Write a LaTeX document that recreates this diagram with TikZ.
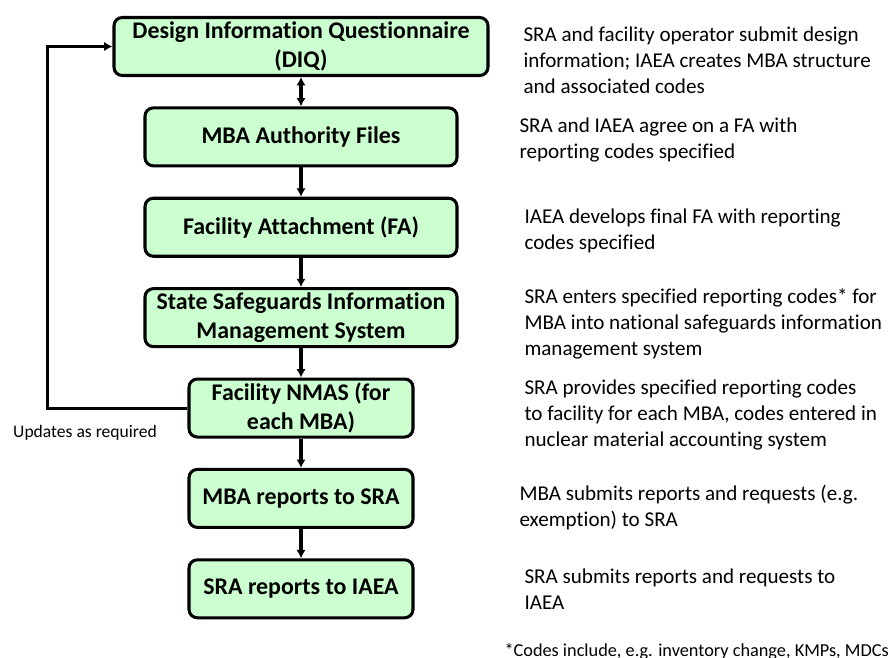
\documentclass[tikz,border=0pt]{standalone}
\usepackage{fontspec}
\setmainfont{Carlito}[Ligatures=NoCommon]
\usetikzlibrary{
	arrows.meta,
	positioning,
	calc
}
\definecolor{stagegreen}{RGB}{204,255,208}

\tikzset{
	stagebox/.style={draw, fill=stagegreen, rounded corners=.25cm, align=center,
		minimum height=1.74cm, inner sep=2pt,
		font=\fontsize{20.4pt}{24.5pt}\selectfont\bfseries},
	notetext/.style={anchor=west, align=left, inner sep=0pt,
		font=\fontsize{18pt}{22.2pt}\selectfont},
}

\begin{document}
\begin{tikzpicture}[line width=2.6pt, >={Latex[length=2.5mm,width=2.8mm]}]

		\useasboundingbox (0, 0) rectangle (26.82, -19.71);

		% left column: the stages
		\node[stagebox, minimum width=11.22cm] (diq) at (9.03, -1.395) {Design Information Questionnaire\\(DIQ)};
		\node[stagebox, minimum width=9.36cm, below=.88 of diq] (maf) {MBA Authority Files};
		\node[stagebox, minimum width=9.36cm, below=.88 of maf] (fa) {Facility Attachment (FA)};
		\node[stagebox, minimum width=9.36cm, below=.88 of fa] (sss) {State Safeguards Information\\Management System};
		\node[stagebox, minimum width=6.72cm, below=.88 of sss] (nmas) {Facility NMAS (for\\each MBA)};
		\node[stagebox, minimum width=6.72cm, below=.88 of nmas] (mrs) {MBA reports to SRA};
		\node[stagebox, minimum width=6.72cm, below=.88 of mrs] (sri) {SRA reports to IAEA};

		\draw[<->] (diq.south) -- (maf.north);
		\foreach \a/\b in {maf/fa, fa/sss, sss/nmas, nmas/mrs, mrs/sri} {
		\draw[->] (\a.south) -- (\b.north);
		}

		% feedback loop
		\coordinate [left=4.2 of nmas.west] (turn);
		\draw[->] (nmas.west) -- (turn) |- (diq.west);
		\node[font=\fontsize{15pt}{18pt}\selectfont, inner sep=0pt] (upd) at (2.55, -12.99) {Updates as required};

		% right column: what happens
		\node[notetext] (d1) at (15.66, -1.80) {SRA and facility operator submit design\\information; IAEA creates MBA structure\\and associated codes};
		\node[notetext] (d2) at (15.54, -4.20) {SRA and IAEA agree on a FA with\\reporting codes specified};
		\node[notetext] (d3) at (15.69, -6.92) {IAEA develops final FA with reporting\\codes specified};
		\node[notetext] (d4) at (15.69, -9.70) {SRA enters specified reporting codes* for\\MBA into national safeguards information\\management system};
		\node[notetext] (d5) at (15.69, -12.45) {SRA provides specified reporting codes\\to facility for each MBA, codes entered in\\nuclear material accounting system};
		\node[notetext] (d6) at (15.54, -15.21) {MBA submits reports and requests (e.g.\\exemption) to SRA};
		\node[notetext] (d7) at (15.69, -17.67) {SRA submits reports and requests to\\IAEA};

		\node[notetext, font=\fontsize{15.6pt}{18pt}\selectfont] (foot) at (15.09, -19.55) {*Codes include, e.g. inventory change, KMPs, MDCs};

	\end{tikzpicture}
\end{document}
